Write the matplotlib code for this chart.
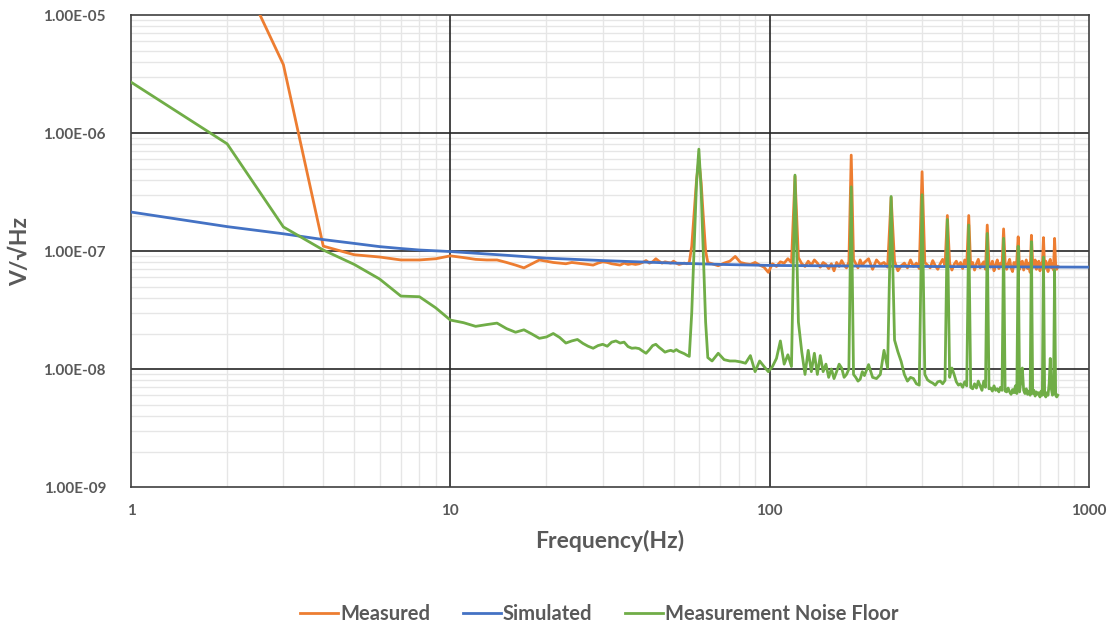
import matplotlib
matplotlib.use("Agg")
import matplotlib.pyplot as plt
import numpy as np
from matplotlib.ticker import FixedLocator, FixedFormatter, LogLocator, NullFormatter

# frequency grid (Hz): 1 Hz steps up to 64, 3 Hz steps to 198, 6 Hz steps to 798
freq = np.concatenate([np.arange(1, 65), np.arange(66, 199, 3), np.arange(204, 799, 6)])

# values in nV/sqrt(Hz)
measured = [
    90000, 39000, 3800, 110, 93, 89, 84, 84, 86, 91,
    88, 85, 84, 84, 80, 76, 72, 78, 84, 82,
    80, 79, 78, 80, 79, 78, 77, 76, 79, 81,
    80, 78, 77, 76, 79, 77, 78, 77, 78, 80,
    83, 79, 81, 86, 82, 79, 81, 80, 79, 82,
    79, 77, 78, 79, 78, 80, 110, 210, 400, 590,
    380, 190, 100, 80,
    # 66..198
    78, 75, 79, 82, 90, 80, 78, 77, 80, 76,
    73, 66, 78, 74, 81, 79, 86, 80, 430, 88,
    78, 74, 82, 76, 84, 79, 73, 80, 77, 71,
    78, 68, 80, 74, 83, 76, 72, 81, 650, 85,
    78, 72, 84, 76, 80,
    # 204..798
    86, 70, 84, 77, 80, 73, 285, 82, 68, 75,
    79, 72, 84, 74, 79, 71, 470, 80, 76, 72,
    83, 75, 70, 78, 85, 76, 200, 79, 69, 77,
    82, 74, 80, 71, 84, 76, 200, 73, 80, 69,
    78, 85, 72, 77, 81, 70, 166, 79, 73, 82,
    68, 77, 84, 71, 79, 74, 154, 80, 70, 78,
    85, 72, 67, 80, 75, 83, 132, 70, 78, 82,
    69, 76, 84, 71, 79, 66, 136, 80, 73, 84,
    70, 77, 82, 68, 79, 74, 130, 71, 82, 76,
    67, 80, 85, 72, 78, 69, 128, 76, 70, 74,
]

noise_floor = [
    2700, 810, 160, 102, 77, 58, 41.5, 41, 33, 26,
    24.7, 23, 23.8, 24.5, 22, 20.5, 21.5, 19.8, 18.2, 18.7,
    20, 18.5, 16.6, 17.3, 17.8, 16.5, 15.6, 15, 15.8, 16.2,
    15.6, 16.9, 17.3, 16.6, 16.9, 15.5, 15, 15.1, 14.9, 14.2,
    13.6, 14.6, 15.8, 16.2, 15.3, 14.6, 13.9, 14.2, 14.4, 14.1,
    14.6, 14.1, 13.8, 13.5, 13.1, 12.8, 30, 110, 380, 730,
    330, 90, 25, 12.5,
    # 66..198
    11.7, 13.6, 12, 11.7, 11.7, 11.5, 11.2, 13, 9.5, 11.7,
    10.5, 9.5, 10.5, 12.3, 17.3, 11, 13.2, 10.5, 440, 25,
    14, 9, 14.4, 9.5, 13.6, 9, 13, 9.5, 11, 8.5,
    10, 8.3, 9.5, 11, 10.2, 8.5, 9, 10, 350, 9,
    8.5, 7.9, 8.2, 9.5, 8.8,
    # 204..798
    10.9, 8.5, 8.3, 9, 14.4, 10.2, 290, 17.6, 14, 11.6,
    9, 7.9, 8.5, 8.3, 7.5, 7.3, 300, 9, 8.1, 7.8,
    7.6, 7.3, 7.8, 7.9, 7.5, 8, 185, 8.5, 10.2, 9,
    7.8, 7.3, 7.5, 7, 7.8, 7.2, 166, 7, 6.8, 7.5,
    6.9, 7.9, 7.2, 6.6, 7.9, 7, 141, 6.8, 6.9, 6.5,
    7.2, 6.6, 6.8, 6.4, 7, 6.6, 128, 6.5, 6.4, 6.9,
    6.4, 6.1, 6.7, 6.3, 7.2, 6.2, 110, 6.4, 8, 10.2,
    6.6, 6.2, 6.8, 6.1, 6.5, 6.0, 120, 6.2, 6.6, 5.9,
    6.4, 6.1, 6.3, 5.8, 6.5, 6.0, 89, 6.1, 5.8, 6.3,
    6.0, 7.5, 12.3, 6.8, 6.0, 6.2, 69, 6.0, 5.8, 6.0,
]

sim_freq = [1, 2, 3, 4, 5, 6, 7, 8, 10, 15, 20, 30, 50, 70, 100, 200, 300, 500, 1000]
simulated = [214, 161, 140, 125, 116, 109, 105, 102, 99, 92, 87, 83, 79, 77, 75.5, 74.5, 74, 73.5, 73]

assert len(freq) == len(measured) == len(noise_floor)

font = "Lato"
grey = "#595959"

fig = plt.figure(figsize=(11.14, 6.26), dpi=100)
ax = fig.add_axes([0.1176, 0.222, 0.86, 0.754])

nv = 1e-9
ax.plot(freq, np.array(measured) * nv, color="#ED7D31", lw=2, label="Measured", zorder=3)
ax.plot(sim_freq, np.array(simulated) * nv, color="#4472C4", lw=2, label="Simulated", zorder=3)
ax.plot(freq, np.array(noise_floor) * nv, color="#70AD47", lw=2, label="Measurement Noise Floor", zorder=3)

ax.set_xscale("log")
ax.set_yscale("log")
ax.set_xlim(1, 1000)
ax.set_ylim(1e-9, 1e-5)

xt = [1, 10, 100, 1000]
yt = [1e-9, 1e-8, 1e-7, 1e-6, 1e-5]
ax.yaxis.set_major_locator(FixedLocator(yt))
ax.yaxis.set_major_formatter(FixedFormatter(["1.00E-09", "1.00E-08", "1.00E-07", "1.00E-06", "1.00E-05"]))
ax.xaxis.set_major_locator(FixedLocator(xt))
ax.xaxis.set_major_formatter(FixedFormatter(["1", "10", "100", "1000"]))
ax.xaxis.set_minor_locator(LogLocator(base=10, subs=np.arange(2, 10)))
ax.yaxis.set_minor_locator(LogLocator(base=10, subs=np.arange(2, 10)))
ax.xaxis.set_minor_formatter(NullFormatter())
ax.yaxis.set_minor_formatter(NullFormatter())

# light minor grid below, dark major lines on top of it
ax.set_axisbelow(True)
ax.grid(which="minor", color="#E6E6E6", lw=1)
for v in xt[1:-1]:
    ax.axvline(v, color="#262626", lw=1.2, zorder=1)
for v in yt[1:-1]:
    ax.axhline(v, color="#262626", lw=1.2, zorder=1)
for s in ax.spines.values():
    s.set_color("#404040")
    s.set_linewidth(1.2)

ax.tick_params(which="both", length=0)
ax.tick_params(axis="y", pad=18)
ax.tick_params(axis="x", pad=12)
for lab in ax.get_xticklabels() + ax.get_yticklabels():
    lab.set_fontfamily(font)
    lab.set_fontweight("bold")
    lab.set_fontsize(11)
    lab.set_color(grey)

ax.set_xlabel("Frequency(Hz)", fontfamily=font, fontweight="bold", fontsize=16.5, color=grey, labelpad=9)
ax.set_ylabel("V/√Hz", fontfamily=[font, "DejaVu Sans"], fontweight="bold", fontsize=16.5, color=grey, labelpad=9)

leg = fig.legend(loc="center", bbox_to_anchor=(0.538, 0.019), ncol=3, frameon=False,
                 handlelength=1.9, handletextpad=0.1, columnspacing=1.6,
                 prop={"family": font, "weight": "bold", "size": 14.5})
for t in leg.get_texts():
    t.set_color(grey)

fig.savefig("out.png", dpi=100)
